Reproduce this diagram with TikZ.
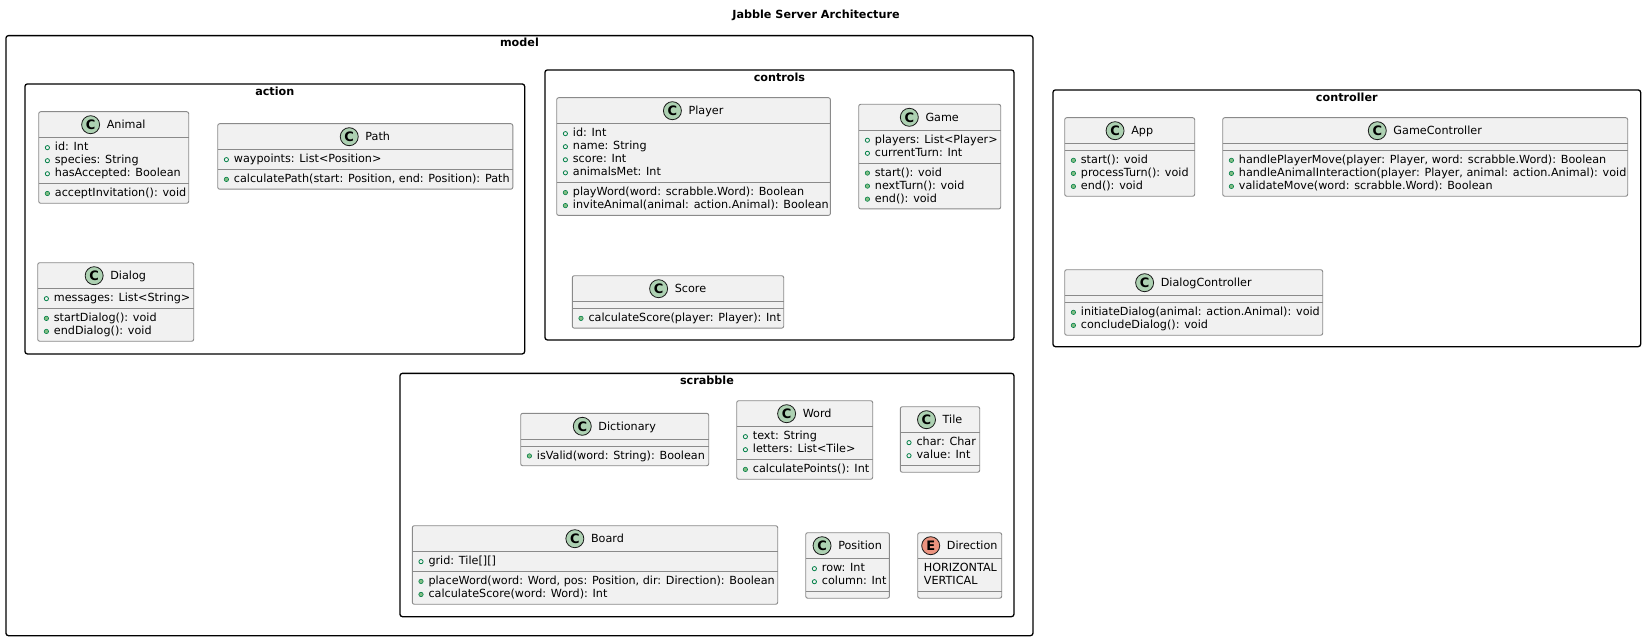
\documentclass[tikz,border=0pt]{standalone}
\usepackage{fontspec}
\setmainfont{DejaVu Sans}
\usetikzlibrary{positioning,fit,backgrounds}

\definecolor{boxfill}{HTML}{F1F1F1}
\definecolor{boxline}{HTML}{8A8A8A}
\definecolor{spotC}{HTML}{ADD1B2}
\definecolor{spotE}{HTML}{EB937F}
\definecolor{iconline}{HTML}{038048}
\definecolor{iconfill}{HTML}{84BE84}

\newcommand{\umlfont}{\fontsize{11.2}{13.05}\selectfont}
\newcommand{\mstrut}{\rule[-3.25pt]{0pt}{13.05pt}}
\newcommand{\fld}{\mstrut\tikz[baseline=-3.2pt]\draw[iconline,line width=0.8pt] (0,0) circle (2.1pt);\hspace{5pt}}
\newcommand{\mth}{\mstrut\tikz[baseline=-3.2pt]\filldraw[draw=iconline,fill=iconfill,line width=0.6pt] (0,0) circle (2.2pt);\hspace{5pt}}

% kind, name, top left, width, title, fields, methods
\newcommand{\umlclass}[7][C]{%
  \node[classhead, minimum width=#4] (#2) at #3 {};
  \node[classtitle] (#2-t) at (#2.center) {\hspace{25pt}#5};
  \node[spot, fill=spot#1] (#2-s) at ([xshift=9pt]#2-t.west) {#1};
  \node[members] (#2-a) at (#2.south west) {#6};
  \node[members] (#2-o) at (#2-a.south west) {#7};
  \begin{pgfonlayer}{background}
    \node[classbox, fit=(#2)(#2-o.south west)] (#2-box) {};
  \end{pgfonlayer}
  \draw[sepline] (#2-a.north -| #2.west) -- (#2-a.north -| #2.east);
  \draw[sepline] (#2-o.north -| #2.west) -- (#2-o.north -| #2.east);
}

% name, top left, width, height
\newcommand{\umlpackage}[4]{%
  \node[pkg, minimum width=#3, minimum height=#4] (#1) at #2 {};
  \node[pkglabel] (#1-l) at ([yshift=-12pt]#1.north) {#1};
}

\begin{document}
\begin{tikzpicture}[x=1pt,y=-1pt,
    classhead/.style={anchor=north west,minimum height=25.6pt,inner sep=0pt},
    classtitle/.style={inner sep=0pt,text height=8.2pt,text depth=0pt,font=\umlfont},
    spot/.style={circle,draw=black!90,line width=0.8pt,minimum size=18pt,inner sep=0pt,
      font=\bfseries\fontsize{13}{13}\selectfont},
    members/.style={anchor=north west,align=left,inner xsep=6pt,inner ysep=3.15pt,
      minimum height=6.3pt,font=\umlfont},
    classbox/.style={draw=boxline,fill=boxfill,line width=0.9pt,rounded corners=2pt,inner sep=0pt},
    sepline/.style={draw=boxline,line width=0.9pt},
    pkg/.style={draw=black,line width=1.3pt,rounded corners=2.5pt,anchor=north west,inner sep=0pt},
    pkglabel/.style={anchor=base,inner sep=0pt,font=\bfseries\umlfont},
    diagtitle/.style={anchor=base,inner sep=0pt,font=\bfseries\umlfont}]
  \useasboundingbox (0,0) rectangle (1644,639);
  \begin{pgfonlayer}{background}
    \fill[white] (0,0) rectangle (1644,639);
  \end{pgfonlayer}

  \node[diagtitle] (title) at (816,19) {Jabble Server Architecture};

  \umlpackage{model}{(5.3,35)}{1027}{600}
  \umlpackage{action}{(24.3,83.3)}{499.7}{270}
  \umlpackage{controls}{(544.3,69.3)}{469}{270}
  \umlpackage{scrabble}{(399.3,372.7)}{614}{243.3}
  \umlpackage{controller}{(1052.3,89.3)}{587.7}{256.7}

  \umlclass{animal}{(38.7,111.7)}{149.6}{Animal}
    {\fld id: Int\\\fld species: String\\\fld hasAccepted: Boolean}
    {\mth acceptInvitation(): void}
  \umlclass{path}{(217.7,123.7)}{294.7}{Path}
    {\fld waypoints: List<Position>}
    {\mth calculatePath(start: Position, end: Position): Path}
  \umlclass{dialog}{(37.7,262.7)}{155.6}{Dialog}
    {\fld messages: List<String>}
    {\mth startDialog(): void\\\mth endDialog(): void}

  \umlclass{player}{(556.7,97.7)}{273.3}{Player}
    {\fld id: Int\\\fld name: String\\\fld score: Int\\\fld animalsMet: Int}
    {\mth playWord(word: scrabble.Word): Boolean\\\mth inviteAnimal(animal: action.Animal): Boolean}
  \umlclass{game}{(858.7,104.3)}{141.6}{Game}
    {\fld players: List<Player>\\\fld currentTurn: Int}
    {\mth start(): void\\\mth nextTurn(): void\\\mth end(): void}
  \umlclass{score}{(572.3,275.7)}{211}{Score}
    {}
    {\mth calculateScore(player: Player): Int}

  \umlclass{app}{(1064.7,117.7)}{129.6}{App}
    {}
    {\mth start(): void\\\mth processTurn(): void\\\mth end(): void}
  \umlclass{gamectrl}{(1222.7,117.7)}{404.6}{GameController}
    {}
    {\mth handlePlayerMove(player: Player, word: scrabble.Word): Boolean\\\mth handleAnimalInteraction(player: Player, animal: action.Animal): void\\\mth validateMove(word: scrabble.Word): Boolean}
  \umlclass{dialogctrl}{(1064.7,269.7)}{257.6}{DialogController}
    {}
    {\mth initiateDialog(animal: action.Animal): void\\\mth concludeDialog(): void}

  \umlclass{dictionary}{(520.7,413.3)}{187.6}{Dictionary}
    {}
    {\mth isValid(word: String): Boolean}
  \umlclass{word}{(736.7,400.7)}{135.6}{Word}
    {\fld text: String\\\fld letters: List<Tile>}
    {\mth calculatePoints(): Int}
  \umlclass{tile}{(900.3,406.7)}{79}{Tile}
    {\fld char: Char\\\fld value: Int}
    {}
  \umlclass{board}{(412.3,525.7)}{365}{Board}
    {\fld grid: Tile[][]}
    {\mth placeWord(word: Word, pos: Position, dir: Direction): Boolean\\\mth calculateScore(word: Word): Int}
  \umlclass{position}{(805.7,532.7)}{83.3}{Position}
    {\fld row: Int\\\fld column: Int}
    {}
  \umlclass[E]{direction}{(917.7,532.7)}{83.6}{Direction}
    {\mstrut HORIZONTAL\\\mstrut VERTICAL}
    {}
\end{tikzpicture}
\end{document}
